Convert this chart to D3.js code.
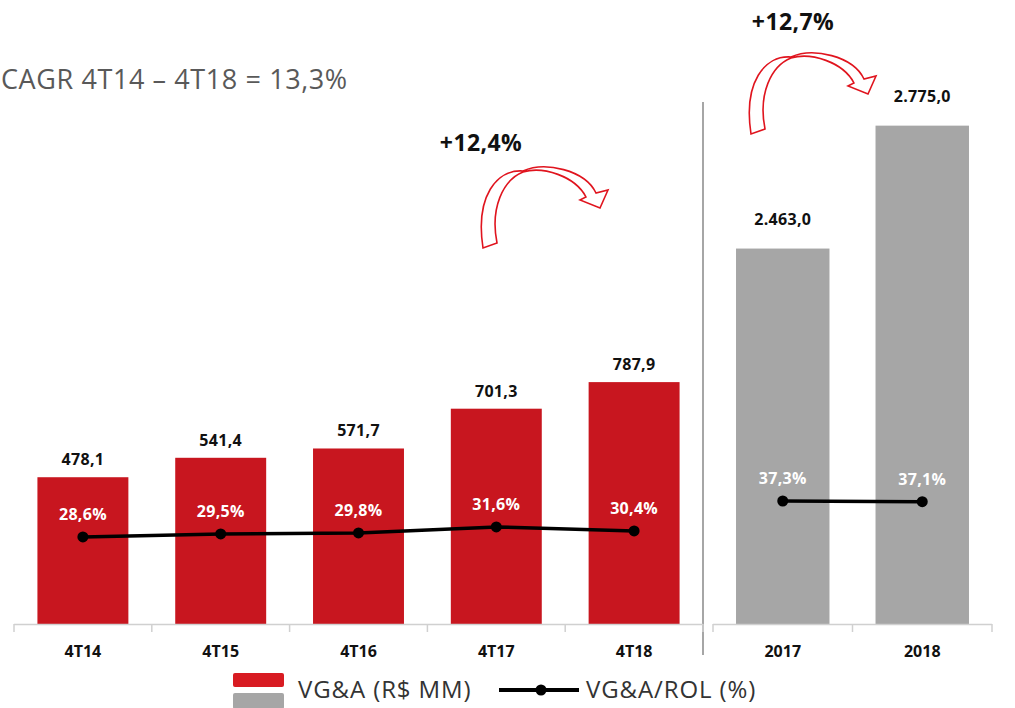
<!DOCTYPE html>
<html>
<head>
<meta charset="utf-8">
<script src="https://cdn.jsdelivr.net/npm/d3@7"></script>
<style>
  body { margin: 0; background: #fff; }
  svg { display: block; }
  text { font-family: 'Open Sans', sans-serif; }
</style>
</head>
<body>
<div id="chart"></div>
<script>
// data
const quarters = ["4T14", "4T15", "4T16", "4T17", "4T18"];
const quarterValues = [478.1, 541.4, 571.7, 701.3, 787.9];
const quarterPct = [28.6, 29.5, 29.8, 31.6, 30.4];
const years = ["2017", "2018"];
const yearValues = [2463.0, 2775.0];
const yearPct = [37.3, 37.1];
const titleText = "CAGR 4T14 – 4T18 = 13,3%";
const growthLabels = ["+12,4%", "+12,7%"];
const legendLabels = ["VG&A (R$ MM)", "VG&A/ROL (%)"];

const width = 1015, height = 708;
const red = "#c8161f", gray = "#a6a6a6", arrowRed = "#e0141e";

const br = d3.formatLocale({ decimal: ",", thousands: ".", grouping: [3], currency: ["R$", ""] });
const fmtVal = br.format(",.1f");
const fmtPct = d => br.format(".1f")(d) + "%";

const svg = d3.select("#chart").append("svg")
    .attr("width", width)
    .attr("height", height);

// scales
const xLeft = d3.scaleBand().domain(quarters).range([14, 703]).paddingInner(0.34).paddingOuter(0.17);
const xRight = d3.scaleBand().domain(years).range([713, 992]).paddingInner(0.33).paddingOuter(0.165);
const yLeft = d3.scaleLinear().domain([0, 1000]).range([624, 317]);
const yRight = d3.scaleLinear().domain([1510, 3000]).range([624, 37]);
const pLeft = d3.scaleLinear().domain([20, 40]).range([565.6, 499]);
const pRight = d3.scaleLinear().domain([20, 40]).range([558.6, 492]);

const left = quarters.map((q, i) => ({ cat: q, v: quarterValues[i], p: quarterPct[i] }));
const right = years.map((y, i) => ({ cat: y, v: yearValues[i], p: yearPct[i] }));

// title
svg.append("text")
    .attr("x", 1).attr("y", 89)
    .attr("font-size", 27)
    .attr("letter-spacing", 0.6)
    .attr("fill", "#595959")
    .text(titleText);

// divider
svg.append("line")
    .attr("x1", 703).attr("x2", 703)
    .attr("y1", 102).attr("y2", 655)
    .attr("stroke", "#a6a6a6").attr("stroke-width", 2);

function panel(data, x, y, p, color, labelGap) {
    const g = svg.append("g");

    g.selectAll("rect.bar")
        .data(data)
        .join("rect")
        .attr("class", "bar")
        .attr("x", d => x(d.cat))
        .attr("width", x.bandwidth())
        .attr("y", d => y(d.v))
        .attr("height", d => y.range()[0] - y(d.v))
        .attr("fill", color);

    // axis: baseline with tick marks at band edges
    const r = x.range();
    const base = y.range()[0];
    g.append("line")
        .attr("x1", r[0]).attr("x2", r[1])
        .attr("y1", base + 0.5).attr("y2", base + 0.5)
        .attr("stroke", "#d0d0d0").attr("stroke-width", 1.5);
    const edges = data.map(d => x(d.cat) - x.step() * x.paddingInner() / 2);
    edges.push(r[1]);
    edges[0] = r[0];
    g.selectAll("line.tick")
        .data(edges)
        .join("line")
        .attr("class", "tick")
        .attr("x1", d => d).attr("x2", d => d)
        .attr("y1", base).attr("y2", base + 8)
        .attr("stroke", "#d0d0d0").attr("stroke-width", 1.5);

    g.selectAll("text.cat")
        .data(data)
        .join("text")
        .attr("class", "cat")
        .attr("x", d => x(d.cat) + x.bandwidth() / 2)
        .attr("y", 657)
        .attr("text-anchor", "middle")
        .attr("font-size", 16).attr("font-weight", 700)
        .attr("fill", "#111")
        .text(d => d.cat);

    g.selectAll("text.val")
        .data(data)
        .join("text")
        .attr("class", "val")
        .attr("x", d => x(d.cat) + x.bandwidth() / 2)
        .attr("y", d => y(d.v) - labelGap)
        .attr("text-anchor", "middle")
        .attr("font-size", 16).attr("font-weight", 700)
        .attr("letter-spacing", 0.3)
        .attr("fill", "#111")
        .text(d => fmtVal(d.v));

    // ratio line
    const line = d3.line()
        .x(d => x(d.cat) + x.bandwidth() / 2)
        .y(d => p(d.p));
    g.append("path")
        .datum(data)
        .attr("d", line)
        .attr("fill", "none")
        .attr("stroke", "#000")
        .attr("stroke-width", 3.5);
    g.selectAll("circle.pt")
        .data(data)
        .join("circle")
        .attr("class", "pt")
        .attr("cx", d => x(d.cat) + x.bandwidth() / 2)
        .attr("cy", d => p(d.p))
        .attr("r", 5.5)
        .attr("fill", "#000");
    g.selectAll("text.pct")
        .data(data)
        .join("text")
        .attr("class", "pct")
        .attr("x", d => x(d.cat) + x.bandwidth() / 2)
        .attr("y", d => p(d.p) - 17)
        .attr("text-anchor", "middle")
        .attr("font-size", 16).attr("font-weight", 700)
        .attr("letter-spacing", 0.3)
        .attr("fill", "#fff")
        .text(d => fmtPct(d.p));
}

panel(left, xLeft, yLeft, pLeft, red, 12);
panel(right, xRight, yRight, pRight, gray, 24);

// growth annotations with curved hollow arrows
const arrowPath = "M0,0 C-8,-52 14,-79 40,-77 C62,-87 102,-78 113,-55 " +
    "L125,-58 L117,-40 L97,-48 L103,-51 " +
    "C92,-72 60,-82 40,-76 C20,-68 7,-40 14,-5 Z";

const annos = [
    { label: growthLabels[0], lx: 481, ly: 151, ax: 483, ay: 248 },
    { label: growthLabels[1], lx: 793, ly: 30, ax: 751, ay: 134 }
];
annos.forEach(a => {
    svg.append("text")
        .attr("x", a.lx).attr("y", a.ly)
        .attr("text-anchor", "middle")
        .attr("font-size", 23).attr("font-weight", 700)
        .attr("letter-spacing", 0.4)
        .attr("fill", "#111")
        .text(a.label);
    svg.append("path")
        .attr("d", arrowPath)
        .attr("transform", `translate(${a.ax},${a.ay})`)
        .attr("fill", "#fff")
        .attr("stroke", arrowRed)
        .attr("stroke-width", 1.6)
        .attr("stroke-linejoin", "miter");
});

// legend
const lg = svg.append("g");
lg.append("rect").attr("x", 233).attr("y", 673).attr("width", 51).attr("height", 14).attr("rx", 2).attr("fill", "#d81b22");
lg.append("rect").attr("x", 233).attr("y", 693).attr("width", 51).attr("height", 16).attr("rx", 2).attr("fill", "#a6a6a6");
lg.append("text").attr("x", 298).attr("y", 698).attr("font-size", 24).attr("letter-spacing", 0.9).attr("fill", "#333").text(legendLabels[0]);
lg.append("line").attr("x1", 499).attr("x2", 579).attr("y1", 690).attr("y2", 690).attr("stroke", "#000").attr("stroke-width", 4);
lg.append("circle").attr("cx", 541).attr("cy", 690).attr("r", 5.5).attr("fill", "#000");
lg.append("text").attr("x", 586).attr("y", 698).attr("font-size", 24).attr("letter-spacing", 0.9).attr("fill", "#333").text(legendLabels[1]);
</script>
</body>
</html>
